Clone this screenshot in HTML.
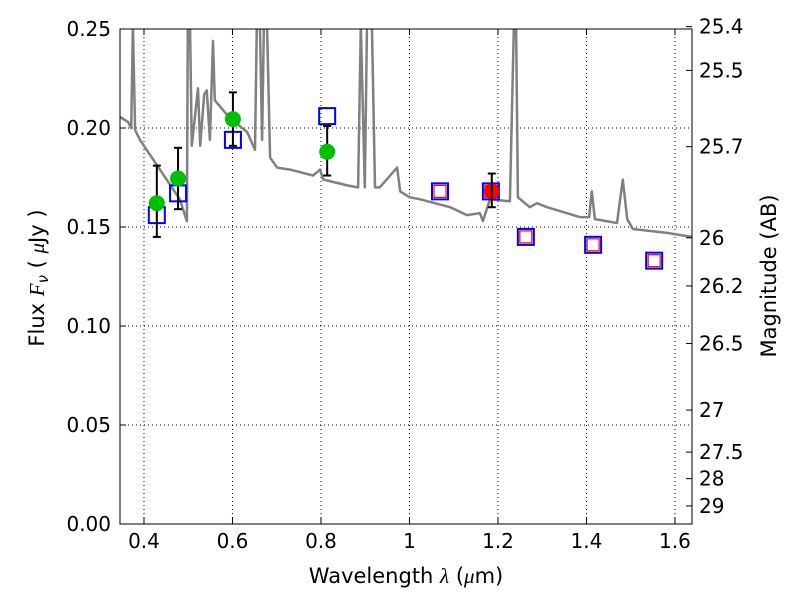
<!DOCTYPE html>
<html><head><meta charset="utf-8"><style>
html,body{margin:0;padding:0;background:#fff}
svg text{font-family:"DejaVu Sans","Liberation Sans",sans-serif;fill:#000}
</style></head><body>
<svg id="chart" width="800" height="600" xmlns="http://www.w3.org/2000/svg"></svg>
<script>
const specWl=[0.346,0.364,0.371,0.375,0.380,0.391,0.436,0.481,0.497,0.499,0.504,0.508,0.522,0.527,0.536,0.542,0.549,0.556,0.560,0.594,0.633,0.651,0.655,0.662,0.667,0.671,0.678,0.685,0.701,0.730,0.782,0.798,0.805,0.859,0.884,0.890,0.899,0.904,0.915,0.922,0.933,0.972,0.979,1.001,1.024,1.092,1.130,1.159,1.166,1.182,1.227,1.236,1.241,1.245,1.272,1.288,1.311,1.385,1.406,1.412,1.419,1.469,1.482,1.492,1.505,1.582,1.638];
const specFlux=[0.2056,0.203,0.200,0.252,0.199,0.194,0.179,0.164,0.153,0.252,0.252,0.191,0.220,0.191,0.217,0.219,0.194,0.244,0.214,0.205,0.198,0.189,0.252,0.252,0.194,0.252,0.252,0.185,0.180,0.179,0.176,0.179,0.174,0.171,0.170,0.252,0.170,0.252,0.252,0.170,0.170,0.180,0.168,0.165,0.164,0.160,0.156,0.157,0.153,0.164,0.163,0.252,0.252,0.165,0.160,0.162,0.160,0.155,0.155,0.168,0.154,0.152,0.174,0.154,0.149,0.147,0.145];
const greenWl=[0.429,0.477,0.601,0.814];
const greenFlux=[0.162,0.1745,0.2045,0.188];
const greenErrLo=[0.145,0.159,0.191,0.176];
const greenErrHi=[0.181,0.190,0.218,0.201];
const redWl=[1.186];
const redFlux=[0.168];
const redErrLo=[0.160];
const redErrHi=[0.177];
const modelWl=[0.429,0.477,0.601,0.814,1.069,1.184,1.263,1.415,1.553];
const modelFlux=[0.156,0.167,0.194,0.206,0.168,0.168,0.145,0.141,0.133];
const innerWl=[1.069,1.184,1.263,1.415,1.553];
const innerFlux=[0.168,0.168,0.145,0.141,0.133];
const xTicks=[0.4,0.6,0.8,1.0,1.2,1.4,1.6];
const xTickLabels=["0.4","0.6","0.8","1","1.2","1.4","1.6"];
const yTicks=[0,0.05,0.10,0.15,0.20,0.25];
const yTickLabels=["0.00","0.05","0.10","0.15","0.20","0.25"];
const magTicks=[25.4,25.5,25.7,26,26.2,26.5,27,27.5,28,29];
const magLabels=["25.4","25.5","25.7","26","26.2","26.5","27","27.5","28","29"];

const L=120,R=692,T=29,B=524,X0=0.3458,X1=1.6385,Y0=0,Y1=0.25;
const sx=v=>L+(v-X0)/(X1-X0)*(R-L);
const sy=v=>B-(v-Y0)/(Y1-Y0)*(B-T);
const svg=document.getElementById('chart');
const NS="http://www.w3.org/2000/svg";
function mk(tag,attrs,parent){const e=document.createElementNS(NS,tag);for(const k in attrs)e.setAttribute(k,attrs[k]);(parent||svg).appendChild(e);return e;}

const defs=mk('defs',{});
const cp=mk('clipPath',{id:'clip'},defs);mk('rect',{x:L,y:T,width:R-L,height:B-T},cp);

xTicks.forEach(t=>{const g=mk('line',{x1:sx(t),x2:sx(t),y1:T,y2:B,stroke:'#000','stroke-width':1,'stroke-dasharray':'1,3'});
});
yTicks.forEach(t=>{const g=mk('line',{x1:L,x2:R,y1:sy(t),y2:sy(t),stroke:'#000','stroke-width':1,'stroke-dasharray':'1,3'});
});

const pts=specWl.map((w,i)=>sx(w).toFixed(1)+','+sy(specFlux[i]).toFixed(1)).join(' ');
const sp=mk('polyline',{points:pts,fill:'none',stroke:'#808080','stroke-width':2.5,'clip-path':'url(#clip)','stroke-linejoin':'round'});


modelWl.forEach((w,i)=>{const s=mk('rect',{x:sx(w)-8,y:sy(modelFlux[i])-8,width:16,height:16,fill:'none',stroke:'#0000ff','stroke-width':2});
});
innerWl.forEach((w,i)=>{const s=mk('rect',{x:sx(w)-6,y:sy(innerFlux[i])-6,width:12,height:12,fill:'none',stroke:'#ff0000','stroke-width':1.2});
});

function errbar(x,lo,hi,name){const g=mk('g',{});
mk('line',{x1:x,x2:x,y1:sy(lo),y2:sy(hi),stroke:'#000','stroke-width':2},g);
mk('line',{x1:x-4,x2:x+4,y1:sy(lo),y2:sy(lo),stroke:'#000','stroke-width':2},g);
mk('line',{x1:x-4,x2:x+4,y1:sy(hi),y2:sy(hi),stroke:'#000','stroke-width':2},g);}
greenWl.forEach((w,i)=>{errbar(sx(w),greenErrLo[i],greenErrHi[i],'green-error-bar');
const c=mk('circle',{cx:sx(w),cy:sy(greenFlux[i]),r:8,fill:'#00bf00'});});
redWl.forEach((w,i)=>{const c=mk('circle',{cx:sx(w),cy:sy(redFlux[i]),r:8,fill:'#ff0000'});
errbar(sx(w),redErrLo[i],redErrHi[i],'red-error-bar');});

const fr=mk('rect',{x:L,y:T,width:R-L,height:B-T,fill:'none',stroke:'#000','stroke-width':1});


xTicks.forEach((t,i)=>{mk('line',{x1:sx(t),x2:sx(t),y1:B,y2:B-6,stroke:'#000'});mk('line',{x1:sx(t),x2:sx(t),y1:T,y2:T+6,stroke:'#000'});
const tx=mk('text',{x:sx(t),y:B+24,'text-anchor':'middle','font-size':20});tx.textContent=xTickLabels[i];
});
yTicks.forEach((t,i)=>{mk('line',{x1:L,x2:L+6,y1:sy(t),y2:sy(t),stroke:'#000'});
const tx=mk('text',{x:L-9,y:sy(t)+7,'text-anchor':'end','font-size':20});tx.textContent=yTickLabels[i];
});
magTicks.forEach((m,i)=>{const f=Math.pow(10,(23.9-m)/2.5);const y=sy(f);
mk('line',{x1:R,x2:R-6,y1:y,y2:y,stroke:'#000'});
const tx=mk('text',{x:R+7,y:y+7,'font-size':20});tx.textContent=magLabels[i];
});

const xt=mk('text',{x:406,y:583,'text-anchor':'middle','font-size':21,'xml:space':'preserve'});
xt.innerHTML='Wavelength   <tspan font-style="italic" font-family="Liberation Serif">λ</tspan> (<tspan font-style="italic" font-family="Liberation Serif">μ</tspan>m)';

const yt=mk('text',{x:0,y:0,'text-anchor':'middle','font-size':21,transform:'translate(44,278) rotate(-90)','xml:space':'preserve'});
yt.innerHTML='Flux   <tspan font-style="italic" font-family="Liberation Serif">F</tspan><tspan font-style="italic" font-size="15" dy="4">ν</tspan><tspan dy="-4">   (   <tspan font-style="italic" font-family="Liberation Serif">μ</tspan>Jy )</tspan>';

const rt=mk('text',{x:0,y:0,'text-anchor':'middle','font-size':21,transform:'translate(776,276) rotate(-90)'});rt.textContent='Magnitude (AB)';

</script>
</body></html>
